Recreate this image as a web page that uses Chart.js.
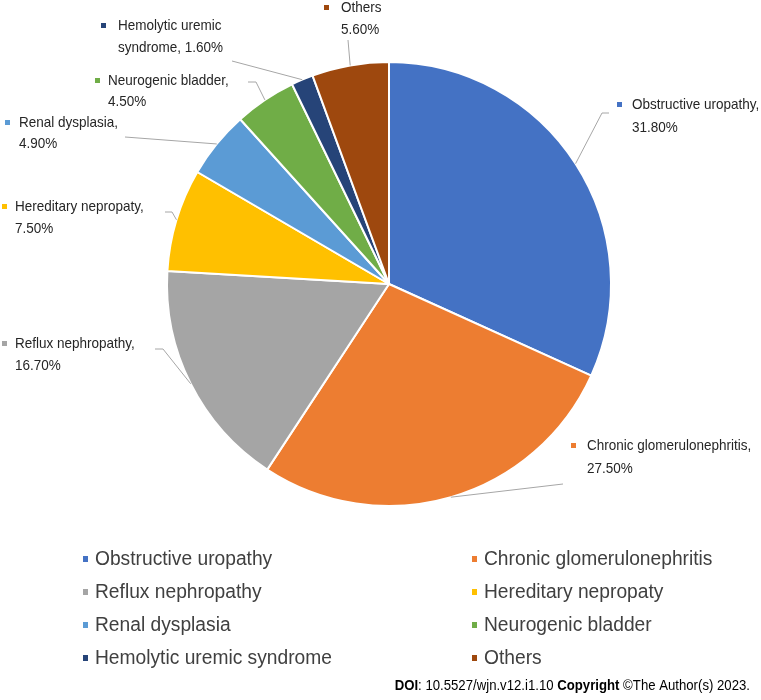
<!DOCTYPE html>
<html>
<head>
<meta charset="utf-8">
<script src="https://cdn.jsdelivr.net/npm/chart.js@4.4.1/dist/chart.umd.min.js"></script>
<style>
  html, body { margin: 0; padding: 0; background: #ffffff; }
  #wrap { width: 761px; height: 700px; position: relative; }
</style>
</head>
<body>
<div id="wrap"><canvas id="c" width="761" height="700"></canvas></div>
<script>
// ---- data ----
const categories = [
  'Obstructive uropathy',
  'Chronic glomerulonephritis',
  'Reflux nephropathy',
  'Hereditary nepropaty',
  'Renal dysplasia',
  'Neurogenic bladder',
  'Hemolytic uremic syndrome',
  'Others'
];
const values = [31.8, 27.5, 16.7, 7.5, 4.9, 4.5, 1.6, 5.6];
const colors = ['#4472C4', '#ED7D31', '#A5A5A5', '#FFC000', '#5B9BD5', '#70AD47', '#264478', '#9E480E'];
const creditBold1 = 'DOI';
const creditText1 = ': 10.5527/wjn.v12.i1.10 ';
const creditBold2 = 'Copyright';
const creditText2 = ' \u00A9The Author(s) 2023.';

// label text lines built from data
const labelLines = categories.map((c, i) => {
  const pct = values[i].toFixed(2) + '%';
  if (c === 'Others') return [c, pct];
  if (c === 'Hemolytic uremic syndrome') return ['Hemolytic uremic', 'syndrome, ' + pct];
  return [c + ',', pct];
});

// ---- layout (styling only) ----
const labelLayout = [
  { mx: 619, tx: 632, y1: 105, y2: 128, path: [[602, 113], [609, 113]] },
  { mx: 573, tx: 587, y1: 446, y2: 469, path: [[563, 484]] },
  { mx: 4,   tx: 15,  y1: 344, y2: 366, path: [[163, 349], [155, 349]] },
  { mx: 4,   tx: 15,  y1: 207, y2: 229, path: [[172, 212], [165, 212]] },
  { mx: 7,   tx: 19,  y1: 123, y2: 144, path: [[125, 137]] },
  { mx: 97,  tx: 108, y1: 81,  y2: 102, path: [[256, 82], [248, 82]] },
  { mx: 103, tx: 118, y1: 26,  y2: 48,  path: [[232, 61]] },
  { mx: 326, tx: 341, y1: 8,   y2: 30,  path: [[348, 40]] }
];
const FONT = '"Liberation Sans", Arial, sans-serif';
const labelFontPx = 15;
const labelScaleX = 0.9;
const legendFontPx = 19.5;
const legendCols = [85, 474];
const legendRows = [560, 593, 626, 659];
const creditFontPx = 15.5;
const creditScaleX = 0.85;

function txt(ctx, s, x, y, px, color, weight, sx) {
  sx = sx || 1;
  ctx.save();
  ctx.font = (weight || 'normal') + ' ' + px + 'px ' + FONT;
  ctx.fillStyle = color;
  ctx.textBaseline = 'middle';
  ctx.textAlign = 'left';
  ctx.translate(x, y);
  ctx.scale(sx, 1);
  ctx.fillText(s, 0, 0);
  const w = ctx.measureText(s).width * sx;
  ctx.restore();
  return w;
}

const annotate = {
  id: 'annotate',
  afterDraw(chart) {
    const ctx = chart.ctx;
    const meta = chart.getDatasetMeta(0);
    ctx.save();
    // leader lines + labels
    meta.data.forEach((arc, i) => {
      const p = arc.getProps(['x', 'y', 'startAngle', 'endAngle', 'outerRadius'], true);
      const mid = (p.startAngle + p.endAngle) / 2;
      const sx = p.x + Math.cos(mid) * p.outerRadius;
      const sy = p.y + Math.sin(mid) * p.outerRadius;
      const L = labelLayout[i];
      ctx.beginPath();
      ctx.moveTo(sx, sy);
      L.path.forEach(pt => ctx.lineTo(pt[0], pt[1]));
      ctx.strokeStyle = '#A6A6A6';
      ctx.lineWidth = 1;
      ctx.stroke();
      ctx.fillStyle = colors[i];
      ctx.fillRect(L.mx - 2, L.y1 - 3, 5, 5);
      txt(ctx, labelLines[i][0], L.tx, L.y1, labelFontPx, '#262626', 'normal', labelScaleX);
      txt(ctx, labelLines[i][1], L.tx, L.y2, labelFontPx, '#262626', 'normal', labelScaleX);
    });
    // legend
    categories.forEach((c, i) => {
      const x = legendCols[i % 2];
      const y = legendRows[Math.floor(i / 2)];
      ctx.fillStyle = colors[i];
      ctx.fillRect(x - 2, y - 4, 5, 6);
      txt(ctx, c, x + 10, y, legendFontPx, '#404040', 'normal', 0.985);
    });
    // credit line, right aligned
    const parts = [[creditBold1, 'bold'], [creditText1, 'normal'], [creditBold2, 'bold'], [creditText2, 'normal']];
    let total = 0;
    parts.forEach(pt => { ctx.font = pt[1] + ' ' + creditFontPx + 'px ' + FONT; total += ctx.measureText(pt[0]).width * creditScaleX; });
    let x = 750 - total;
    parts.forEach(pt => { x += txt(ctx, pt[0], x, 686, creditFontPx, '#000000', pt[1], creditScaleX); });
    ctx.restore();
  }
};

new Chart(document.getElementById('c'), {
  type: 'pie',
  data: {
    labels: categories,
    datasets: [{
      data: values,
      backgroundColor: colors,
      borderColor: '#ffffff',
      borderWidth: 2
    }]
  },
  options: {
    responsive: false,
    animation: false,
    layout: { padding: { top: 61, bottom: 193, left: 166, right: 149 } },
    plugins: { legend: { display: false }, tooltip: { enabled: false } }
  },
  plugins: [annotate]
});
</script>
</body>
</html>
